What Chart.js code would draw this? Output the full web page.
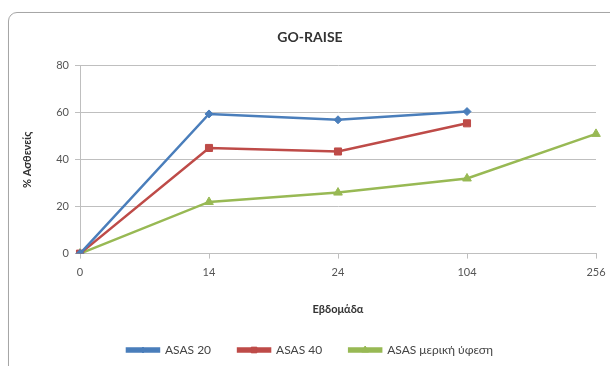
<!DOCTYPE html>
<html>
<head>
<meta charset="utf-8">
<script src="https://cdn.jsdelivr.net/npm/chart.js@4.4.0/dist/chart.umd.min.js"></script>
<style>
  body { margin: 0; background: #fff; overflow: hidden; }
  #frame {
    position: absolute; left: 8px; top: 12px; width: 640px; height: 400px;
    border: 1px solid #a6a6a6; border-radius: 9px; box-shadow: 1px 1px 2px rgba(0,0,0,0.15);
  }
  #wrap { position: absolute; left: 0; top: 0; width: 610px; height: 366px; }
</style>
</head>
<body>
<div id="frame"></div>
<div id="wrap"><canvas id="chart1" width="610" height="366"></canvas></div>
<script>
var weeks = ['0', '14', '24', '104', '256'];
var asas20 = [0, 59.5, 57, 60.5, null];
var asas40 = [0, 45, 43.5, 55.5, null];
var asasPartial = [0, 22, 26, 32, 51];

var seriesNames = ['ASAS 20', 'ASAS 40', 'ASAS μερική ύφεση'];
var colors = ['#4a7ebb', '#be4b48', '#98b954'];
var markers = ['rectRot', 'rect', 'triangle'];
var markerSizes = [4, 5, 5];

var font = 'Lato, "Open Sans", sans-serif';

// draw the series marker in the middle of each legend line
var legendMarkers = {
  id: 'legendMarkers',
  afterDraw: function(chart) {
    var legend = chart.legend;
    var ctx = chart.ctx;
    legend.legendHitBoxes.forEach(function(box, i) {
      var ds = chart.data.datasets[i];
      var cx = box.left + legend.options.labels.boxWidth / 2;
      var cy = box.top + box.height / 2;
      ctx.save();
      ctx.fillStyle = ds.borderColor;
      ctx.strokeStyle = ds.borderColor;
      ctx.lineWidth = 1;
      Chart.helpers.drawPoint(ctx, { pointStyle: ds.pointStyle, radius: ds.pointRadius - 1, borderWidth: 1 }, cx, cy);
      ctx.restore();
    });
  }
};

var datasets = [asas20, asas40, asasPartial].map(function(values, i) {
  return {
    label: seriesNames[i],
    data: values,
    borderColor: colors[i],
    backgroundColor: colors[i],
    borderWidth: 2.5,
    pointStyle: markers[i],
    pointRadius: markerSizes[i],
    pointHoverRadius: markerSizes[i],
    pointBorderWidth: 1,
    spanGaps: false,
    tension: 0
  };
});

var ctx = document.getElementById('chart1').getContext('2d');
var myChart = new Chart(ctx, {
  type: 'line',
  data: { labels: weeks, datasets: datasets },
  plugins: [legendMarkers],
  options: {
    responsive: false,
    animation: false,
    layout: { padding: { left: 10, right: 0, top: 0, bottom: 0 } },
    plugins: {
      title: {
        display: true,
        text: 'GO-RAISE',
        color: '#333',
        font: { family: font, size: 14, weight: 'bold' },
        padding: { top: 29, bottom: 20 }
      },
      legend: {
        position: 'bottom',
        labels: {
          boxWidth: 32,
          boxHeight: 3,
          color: '#444',
          font: { family: font, size: 12 },
          padding: 27
        }
      },
      tooltip: { enabled: false }
    },
    scales: {
      x: {
        offset: false,
        grid: { display: true, drawOnChartArea: false, drawTicks: true, tickLength: 5, color: '#bfbfbf' },
        border: { color: '#bfbfbf' },
        ticks: { color: '#555', font: { family: font, size: 11 }, padding: 7 },
        title: {
          display: true,
          text: 'Εβδομάδα',
          color: '#333',
          font: { family: font, size: 11, weight: 'bold' },
          padding: { top: 17, bottom: 1 }
        },
        afterFit: function(scale) { scale.paddingRight = 14; }
      },
      y: {
        min: 0,
        max: 80,
        grid: { color: '#bfbfbf', tickLength: 5 },
        border: { color: '#bfbfbf' },
        ticks: { stepSize: 20, color: '#555', font: { family: font, size: 11 }, padding: 6 },
        title: {
          display: true,
          text: '% Ασθενείς',
          color: '#333',
          font: { family: font, size: 11, weight: 'bold' },
          padding: { top: 11, bottom: 14 }
        },
        afterFit: function(scale) { scale.width = 70; }
      }
    }
  }
});
</script>
</body>
</html>
